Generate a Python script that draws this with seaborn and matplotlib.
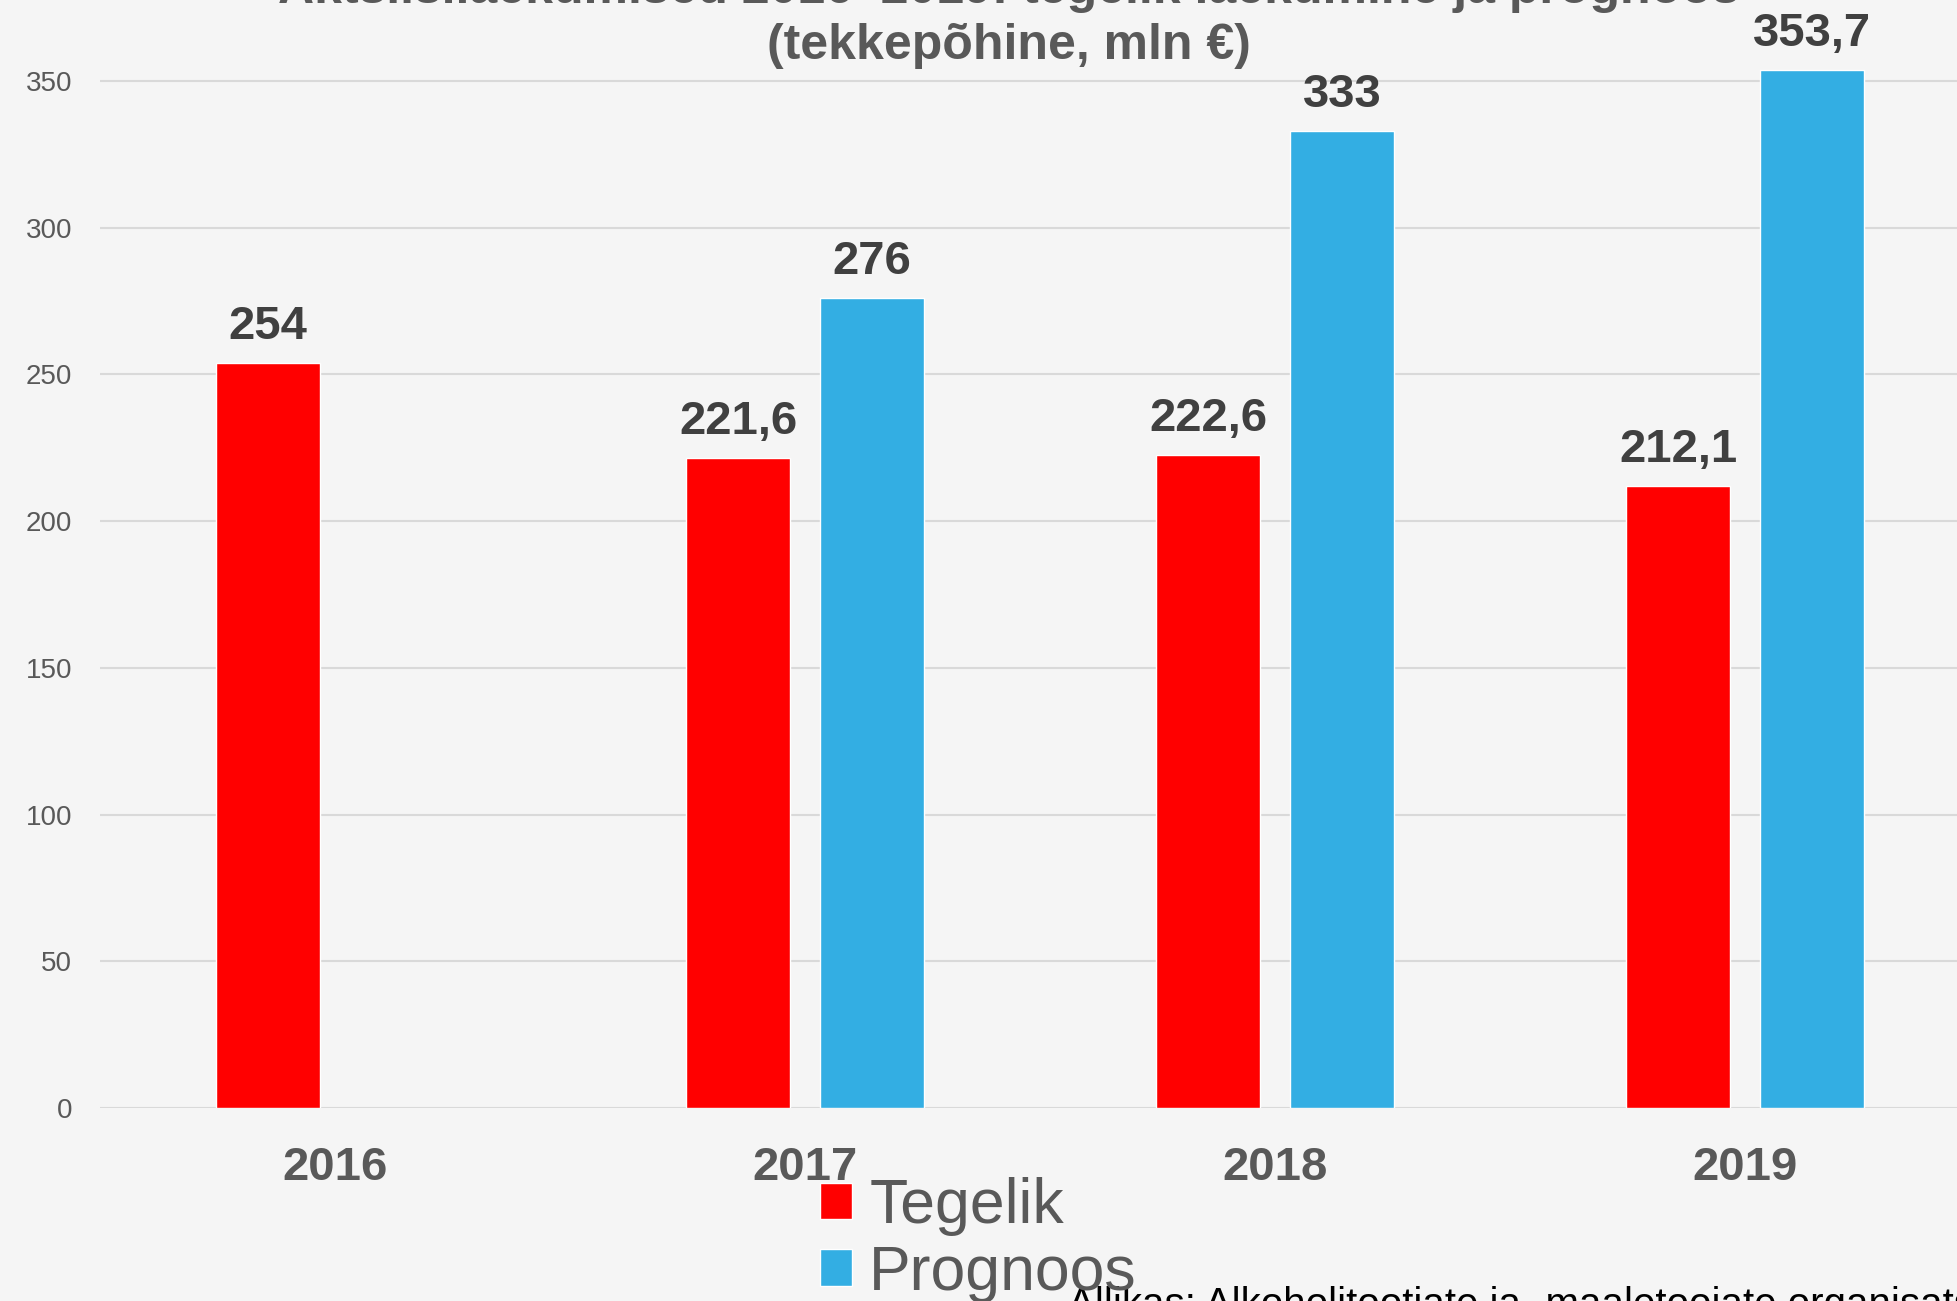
import pandas as pd
import numpy as np
import seaborn as sns
import matplotlib.pyplot as plt

# andmed
years = ["2016", "2017", "2018", "2019"]
tegelik = [254, 221.6, 222.6, 212.1]
prognoos = [np.nan, 276, 333, 353.7]
series_names = ["Tegelik", "Prognoos"]
colors = ["#FF0000", "#33AEE3"]

title1 = "Aktsiisilaekumised 2016–2019: tegelik laekumine ja prognoos"
title2 = "(tekkepõhine, mln €)"
source = "Allikas: Alkoholitootjate ja -maaletoojate organisatsioonid"

df = pd.DataFrame({
    "aasta": years * 2,
    "liik": [series_names[0]] * 4 + [series_names[1]] * 4,
    "vaartus": tegelik + prognoos,
})

sns.set_theme(style="white")
plt.rcParams['font.family'] = ['Liberation Sans', 'DejaVu Sans']

bg = "#F5F5F5"
fig = plt.figure(figsize=(19.58, 13.01), dpi=100, facecolor=bg)
ax = fig.add_axes([100 / 1958, 0.1483, 1880 / 1958, 0.8517])
ax.set_facecolor(bg)

sns.barplot(data=df, x="aasta", y="vaartus", hue="liik", hue_order=series_names,
            palette=colors, width=0.57, gap=0.22, saturation=1, ax=ax)

ax.set_xlim(-0.5, 3.5)
ax.set_ylim(0, 377.6)
ax.set_yticks(range(0, 351, 50))
ax.grid(axis="y", color="#D9D9D9", linewidth=1.5)
ax.set_axisbelow(True)
for s in ax.spines.values():
    s.set_visible(False)
ax.set_xlabel("")
ax.set_ylabel("")
ax.tick_params(axis="x", length=0, pad=27, labelsize=34, labelcolor="#595959")
ax.tick_params(axis="y", length=0, pad=20, labelsize=20, labelcolor="#595959")
for t in ax.get_xticklabels():
    t.set_fontweight("bold")

# väärtused tulpade kohal
for cont in ax.containers:
    labs = [("%g" % v).replace(".", ",") for v in cont.datavalues]
    ax.bar_label(cont, labels=labs, padding=10, fontsize=34, fontweight="bold", color="#404040")

# legend
ax.legend_.remove()
handles, labels = ax.get_legend_handles_labels()
fig.legend(handles, labels, loc="center left", bbox_to_anchor=(820 / 1958, 1 - 1240 / 1301),
           frameon=False, fontsize=45, labelcolor="#595959", handlelength=0.52, handleheight=0.52,
           handletextpad=0.27, borderpad=0, borderaxespad=0, labelspacing=0.12)

# pealkiri
fig.text(1009 / 1958, 1 - 59 / 1301, title2, ha="center", va="baseline",
         fontsize=36, fontweight="bold", color="#595959")
fig.text(1009 / 1958, 1 - 3 / 1301, title1, ha="center", va="baseline",
         fontsize=36, fontweight="bold", color="#595959")

fig.text(1068 / 1958, 1 - 1316 / 1301, source, ha="left", va="baseline",
         fontsize=29, color="black")

fig.savefig("out.png", dpi=100, facecolor=bg)
